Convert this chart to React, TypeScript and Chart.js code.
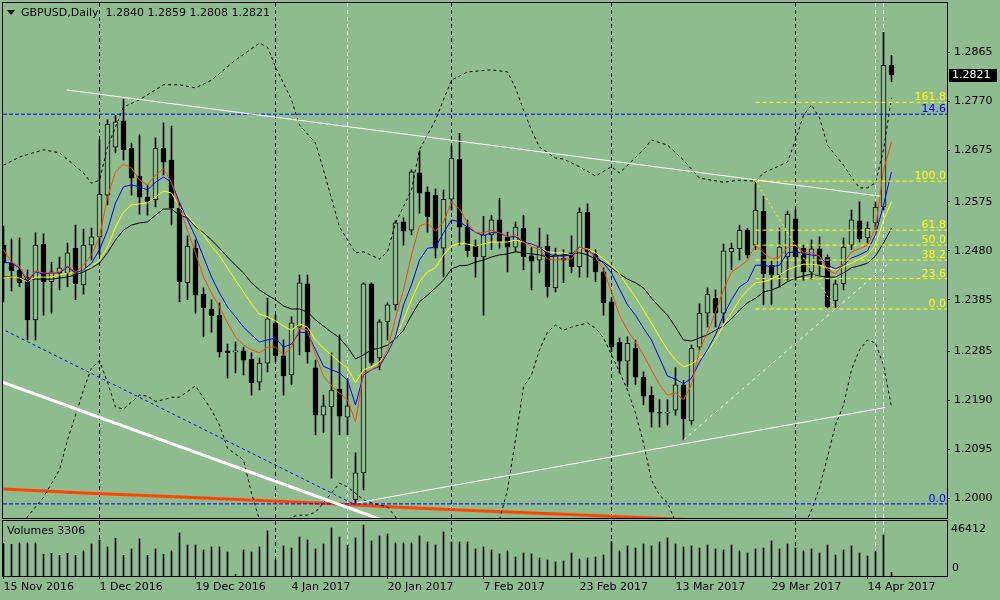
import React, { useEffect, useRef } from 'react';
import { Chart, registerables } from 'chart.js';

Chart.register(...registerables);

const FONT = "'DejaVu Sans', sans-serif";
const BG = '#8fbc8f';

// Daily bars, index 0 = 15 Nov 2016 ... index 111 = 19 Apr 2017
const opens = [
  1.2491, 1.2456, 1.2443, 1.2429, 1.2346, 1.2493, 1.2420, 1.2437, 1.2437, 1.2485,
  1.2414, 1.2491, 1.2507, 1.2588, 1.2681, 1.2732, 1.2679, 1.2625, 1.2584, 1.2579,
  1.2679, 1.2656, 1.2563, 1.2418, 1.2485, 1.2396, 1.2367, 1.2355, 1.2286, 1.2284,
  1.2286, 1.2270, 1.2225, 1.2262, 1.2340, 1.2276, 1.2239, 1.2332, 1.2416, 1.2253,
  1.2161, 1.2177, 1.2212, 1.2157, 1.1997, 1.2049, 1.2416, 1.2272, 1.2342, 1.2375,
  1.2536, 1.2520, 1.2631, 1.2594, 1.2588, 1.2485, 1.2580, 1.2658, 1.2526, 1.2491,
  1.2468, 1.2511, 1.2540, 1.2507, 1.2487, 1.2524, 1.2470, 1.2462, 1.2489, 1.2408,
  1.2466, 1.2476, 1.2449, 1.2555, 1.2474, 1.2439, 1.2381, 1.2303, 1.2266, 1.2291,
  1.2235, 1.2200, 1.2167, 1.2165, 1.2171, 1.2220, 1.2150, 1.2293, 1.2359, 1.2388,
  1.2359, 1.2478, 1.2484, 1.2520, 1.2491, 1.2557, 1.2452, 1.2433, 1.2468, 1.2542,
  1.2485, 1.2439, 1.2484, 1.2468, 1.2383, 1.2416, 1.2491, 1.2538, 1.2505, 1.2534,
  1.2565, 1.2840,
];
const highs = [
  1.2528, 1.2503, 1.2505, 1.2443, 1.2515, 1.2513, 1.2458, 1.2468, 1.2495, 1.2530,
  1.2522, 1.2524, 1.2695, 1.2734, 1.2743, 1.2774, 1.2689, 1.2705, 1.2608, 1.2699,
  1.2728, 1.2722, 1.2573, 1.2509, 1.2501, 1.2408, 1.2385, 1.2379, 1.2299, 1.2303,
  1.2293, 1.2282, 1.2272, 1.2388, 1.2355, 1.2307, 1.2352, 1.2433, 1.2433, 1.2268,
  1.2200, 1.2282, 1.2317, 1.2233, 1.2088, 1.2418, 1.2418, 1.2346, 1.2379, 1.2538,
  1.2544, 1.2637, 1.2674, 1.2604, 1.2600, 1.2598, 1.2683, 1.2708, 1.2540, 1.2501,
  1.2547, 1.2549, 1.2582, 1.2516, 1.2536, 1.2549, 1.2487, 1.2524, 1.2511, 1.2485,
  1.2482, 1.2509, 1.2563, 1.2571, 1.2482, 1.2447, 1.2390, 1.2311, 1.2313, 1.2307,
  1.2245, 1.2216, 1.2191, 1.2191, 1.2253, 1.2229, 1.2297, 1.2377, 1.2408, 1.2404,
  1.2493, 1.2495, 1.2530, 1.2524, 1.2615, 1.2586, 1.2462, 1.2524, 1.2557, 1.2559,
  1.2491, 1.2501, 1.2507, 1.2472, 1.2423, 1.2505, 1.2559, 1.2575, 1.2536, 1.2575,
  1.2904, 1.2859,
];
const lows = [
  1.2381, 1.2402, 1.2410, 1.2307, 1.2307, 1.2355, 1.2359, 1.2404, 1.2410, 1.2385,
  1.2396, 1.2462, 1.2472, 1.2569, 1.2670, 1.2656, 1.2588, 1.2551, 1.2549, 1.2565,
  1.2627, 1.2530, 1.2381, 1.2385, 1.2359, 1.2313, 1.2322, 1.2274, 1.2233, 1.2243,
  1.2239, 1.2200, 1.2210, 1.2245, 1.2264, 1.2200, 1.2220, 1.2278, 1.2262, 1.2123,
  1.2127, 1.2039, 1.2123, 1.2123, 1.1987, 1.2016, 1.2258, 1.2249, 1.2307, 1.2365,
  1.2491, 1.2511, 1.2553, 1.2516, 1.2466, 1.2429, 1.2559, 1.2491, 1.2468, 1.2429,
  1.2355, 1.2482, 1.2485, 1.2439, 1.2478, 1.2443, 1.2404, 1.2437, 1.2390, 1.2400,
  1.2418, 1.2437, 1.2429, 1.2429, 1.2420, 1.2355, 1.2284, 1.2243, 1.2216, 1.2220,
  1.2181, 1.2138, 1.2138, 1.2142, 1.2161, 1.2113, 1.2142, 1.2288, 1.2332, 1.2332,
  1.2340, 1.2443, 1.2462, 1.2466, 1.2482, 1.2375, 1.2375, 1.2410, 1.2423, 1.2423,
  1.2423, 1.2425, 1.2433, 1.2367, 1.2367, 1.2404, 1.2482, 1.2497, 1.2495, 1.2520,
  1.2559, 1.2808,
];
const closes = [
  1.2456, 1.2441, 1.2418, 1.2346, 1.2491, 1.2420, 1.2439, 1.2447, 1.2476, 1.2416,
  1.2491, 1.2507, 1.2590, 1.2726, 1.2730, 1.2676, 1.2621, 1.2584, 1.2575, 1.2679,
  1.2652, 1.2563, 1.2420, 1.2489, 1.2394, 1.2369, 1.2354, 1.2284, 1.2282, 1.2286,
  1.2268, 1.2224, 1.2262, 1.2348, 1.2276, 1.2237, 1.2340, 1.2418, 1.2284, 1.2161,
  1.2179, 1.2210, 1.2159, 1.2179, 1.2049, 1.2416, 1.2262, 1.2342, 1.2375, 1.2534,
  1.2518, 1.2633, 1.2592, 1.2546, 1.2485, 1.2580, 1.2660, 1.2526, 1.2480, 1.2468,
  1.2511, 1.2540, 1.2497, 1.2487, 1.2526, 1.2468, 1.2460, 1.2487, 1.2410, 1.2472,
  1.2462, 1.2449, 1.2555, 1.2478, 1.2439, 1.2379, 1.2293, 1.2266, 1.2301, 1.2235,
  1.2198, 1.2167, 1.2165, 1.2167, 1.2220, 1.2154, 1.2291, 1.2359, 1.2396, 1.2359,
  1.2480, 1.2485, 1.2520, 1.2472, 1.2559, 1.2435, 1.2433, 1.2487, 1.2551, 1.2468,
  1.2439, 1.2484, 1.2452, 1.2371, 1.2416, 1.2487, 1.2540, 1.2503, 1.2524, 1.2565,
  1.2840, 1.2821,
];
const volumes = [
  29730, 28820, 30030, 30030, 30030, 19720, 20630, 18810, 20630, 18810,
  22750, 29120, 32760, 26390, 34280, 18810, 24570, 33670, 18810, 24570,
  19720, 22750, 39130, 28210, 28210, 23660, 26390, 26390, 21840, 1520,
  23660, 21840, 26390, 40950, 14560, 27300, 25480, 35490, 32760, 24570,
  29120, 43680, 35490, 28210, 34580, 46412, 31850, 36400, 38220, 30030,
  30030, 30030, 36400, 30940, 28210, 40040, 30940, 30940, 30940, 24570,
  26390, 23660, 20020, 22750, 17290, 20930, 20020, 16380, 14560, 12740,
  13650, 20930, 15470, 16380, 17290, 19110, 31240, 22750, 27300, 25480,
  29120, 27300, 30940, 34580, 29120, 26390, 27300, 25480, 28210, 24570,
  23660, 28210, 22750, 20930, 24570, 25480, 31850, 24570, 29120, 25480,
  22750, 24570, 20930, 28210, 19110, 23660, 27300, 20930, 18200, 22750,
  37310, 3306,
];

// moving averages, one value per bar
const maRed = [
  1.2482, 1.2458, 1.2449, 1.2423, 1.2441, 1.2437, 1.2437, 1.2439, 1.2451, 1.2439,
  1.2452, 1.2472, 1.2507, 1.2584, 1.2633, 1.2648, 1.2641, 1.2617, 1.2608, 1.2627,
  1.2639, 1.2613, 1.2563, 1.2520, 1.2476, 1.2429, 1.2398, 1.2371, 1.2340, 1.2313,
  1.2297, 1.2288, 1.2282, 1.2293, 1.2293, 1.2278, 1.2293, 1.2330, 1.2326, 1.2278,
  1.2237, 1.2218, 1.2204, 1.2191, 1.2148, 1.2243, 1.2249, 1.2258, 1.2288, 1.2350,
  1.2404, 1.2472, 1.2528, 1.2534, 1.2518, 1.2536, 1.2575, 1.2561, 1.2534, 1.2515,
  1.2515, 1.2520, 1.2515, 1.2507, 1.2511, 1.2497, 1.2489, 1.2482, 1.2464, 1.2462,
  1.2464, 1.2464, 1.2487, 1.2482, 1.2468, 1.2443, 1.2400, 1.2355, 1.2326, 1.2303,
  1.2278, 1.2249, 1.2220, 1.2200, 1.2204, 1.2191, 1.2220, 1.2288, 1.2322, 1.2361,
  1.2404, 1.2439, 1.2449, 1.2462, 1.2491, 1.2476, 1.2464, 1.2468, 1.2487, 1.2491,
  1.2476, 1.2476, 1.2470, 1.2443, 1.2435, 1.2456, 1.2478, 1.2484, 1.2491, 1.2524,
  1.2637, 1.2691,
];
const maBlue = [
  1.2458, 1.2456, 1.2447, 1.2420, 1.2439, 1.2435, 1.2437, 1.2437, 1.2449, 1.2437,
  1.2443, 1.2456, 1.2482, 1.2520, 1.2573, 1.2604, 1.2608, 1.2604, 1.2598, 1.2613,
  1.2623, 1.2613, 1.2573, 1.2540, 1.2507, 1.2468, 1.2429, 1.2398, 1.2371, 1.2352,
  1.2332, 1.2317, 1.2303, 1.2307, 1.2311, 1.2293, 1.2299, 1.2322, 1.2321, 1.2288,
  1.2256, 1.2249, 1.2243, 1.2229, 1.2181, 1.2239, 1.2249, 1.2256, 1.2282, 1.2313,
  1.2375, 1.2414, 1.2462, 1.2485, 1.2487, 1.2515, 1.2540, 1.2536, 1.2526, 1.2516,
  1.2509, 1.2515, 1.2515, 1.2507, 1.2507, 1.2497, 1.2493, 1.2487, 1.2474, 1.2470,
  1.2470, 1.2472, 1.2487, 1.2482, 1.2470, 1.2456, 1.2437, 1.2406, 1.2375, 1.2355,
  1.2330, 1.2307, 1.2272, 1.2237, 1.2231, 1.2222, 1.2233, 1.2264, 1.2288, 1.2317,
  1.2355, 1.2385, 1.2410, 1.2420, 1.2452, 1.2452, 1.2449, 1.2452, 1.2476, 1.2478,
  1.2474, 1.2472, 1.2470, 1.2452, 1.2445, 1.2452, 1.2466, 1.2472, 1.2480, 1.2511,
  1.2569, 1.2633,
];
const maYellow = [
  1.2427, 1.2429, 1.2427, 1.2420, 1.2429, 1.2429, 1.2429, 1.2433, 1.2437, 1.2437,
  1.2443, 1.2449, 1.2462, 1.2487, 1.2526, 1.2555, 1.2569, 1.2571, 1.2573, 1.2584,
  1.2596, 1.2592, 1.2565, 1.2547, 1.2530, 1.2511, 1.2489, 1.2470, 1.2447, 1.2423,
  1.2400, 1.2377, 1.2357, 1.2352, 1.2344, 1.2334, 1.2326, 1.2338, 1.2332, 1.2307,
  1.2291, 1.2278, 1.2264, 1.2253, 1.2224, 1.2249, 1.2255, 1.2264, 1.2284, 1.2311,
  1.2346, 1.2385, 1.2420, 1.2439, 1.2447, 1.2472, 1.2489, 1.2495, 1.2493, 1.2489,
  1.2493, 1.2497, 1.2497, 1.2497, 1.2501, 1.2497, 1.2491, 1.2487, 1.2478, 1.2476,
  1.2476, 1.2472, 1.2485, 1.2484, 1.2476, 1.2464, 1.2452, 1.2435, 1.2412, 1.2390,
  1.2365, 1.2340, 1.2313, 1.2288, 1.2268, 1.2255, 1.2260, 1.2272, 1.2284, 1.2307,
  1.2336, 1.2359, 1.2385, 1.2404, 1.2418, 1.2420, 1.2425, 1.2433, 1.2443, 1.2449,
  1.2454, 1.2454, 1.2452, 1.2447, 1.2443, 1.2449, 1.2456, 1.2464, 1.2472, 1.2491,
  1.2540, 1.2575,
];
const maBlack = [
  1.2429, 1.2429, 1.2427, 1.2423, 1.2425, 1.2425, 1.2425, 1.2427, 1.2429, 1.2433,
  1.2439, 1.2447, 1.2456, 1.2476, 1.2501, 1.2520, 1.2530, 1.2534, 1.2536, 1.2549,
  1.2561, 1.2561, 1.2549, 1.2544, 1.2526, 1.2515, 1.2501, 1.2485, 1.2468, 1.2452,
  1.2437, 1.2418, 1.2404, 1.2394, 1.2385, 1.2373, 1.2367, 1.2367, 1.2361, 1.2346,
  1.2334, 1.2322, 1.2311, 1.2293, 1.2270, 1.2278, 1.2288, 1.2291, 1.2297, 1.2309,
  1.2326, 1.2355, 1.2381, 1.2394, 1.2408, 1.2423, 1.2445, 1.2451, 1.2452, 1.2458,
  1.2462, 1.2468, 1.2472, 1.2474, 1.2478, 1.2476, 1.2474, 1.2472, 1.2468, 1.2470,
  1.2472, 1.2474, 1.2476, 1.2472, 1.2464, 1.2458, 1.2447, 1.2435, 1.2425, 1.2418,
  1.2408, 1.2388, 1.2371, 1.2355, 1.2332, 1.2307, 1.2305, 1.2311, 1.2317, 1.2326,
  1.2334, 1.2348, 1.2365, 1.2379, 1.2388, 1.2400, 1.2404, 1.2410, 1.2420, 1.2427,
  1.2431, 1.2435, 1.2431, 1.2429, 1.2429, 1.2437, 1.2447, 1.2451, 1.2456, 1.2470,
  1.2495, 1.2524,
];

// envelope bands (dotted), sampled bars
const bandUpperIdx = [0, 2, 5, 7, 10, 11, 12, 13, 15, 17, 20, 22, 24, 26, 29, 32, 33, 34, 36, 37, 39, 40, 42, 44, 45, 47, 48, 49, 51, 52, 54, 55, 56, 58, 61, 63, 64, 65, 66, 67, 69, 70, 72, 74, 76, 77, 80, 81, 83, 85, 87, 90, 92, 94, 95, 98, 99, 100, 101, 102, 103, 105, 106, 107, 108, 109, 110, 111];
const bandUpper = [1.2646, 1.2662, 1.2676, 1.2670, 1.2631, 1.2611, 1.2617, 1.2681, 1.2759, 1.2773, 1.2802, 1.2802, 1.2796, 1.2811, 1.2850, 1.2883, 1.2875, 1.2837, 1.2773, 1.2724, 1.2689, 1.2637, 1.2526, 1.2476, 1.2478, 1.2464, 1.2478, 1.2534, 1.2598, 1.2676, 1.2734, 1.2773, 1.2811, 1.2827, 1.2831, 1.2827, 1.2796, 1.2753, 1.2714, 1.2681, 1.2660, 1.2658, 1.2643, 1.2625, 1.2643, 1.2631, 1.2676, 1.2695, 1.2685, 1.2656, 1.2621, 1.2613, 1.2617, 1.2615, 1.2631, 1.2652, 1.2695, 1.2743, 1.2763, 1.2738, 1.2685, 1.2646, 1.2623, 1.2602, 1.2602, 1.2612, 1.2676, 1.2776];
const bandLowerIdx = [0, 3, 5, 7, 8, 9, 10, 11, 12, 13, 14, 15, 17, 18, 19, 20, 21, 22, 24, 26, 27, 28, 30, 31, 32, 34, 36, 37, 38, 39, 40, 42, 43, 45, 46, 48, 49, 52, 57, 61, 62, 63, 64, 65, 66, 67, 68, 69, 70, 71, 72, 73, 74, 75, 76, 77, 78, 79, 80, 81, 82, 83, 84, 86, 92, 98, 100, 101, 102, 103, 104, 105, 106, 107, 108, 109, 110, 111];
const bandLower = [1.1880, 1.1964, 1.2002, 1.2055, 1.2113, 1.2161, 1.2210, 1.2253, 1.2266, 1.2225, 1.2177, 1.2173, 1.2200, 1.2198, 1.2188, 1.2191, 1.2196, 1.2196, 1.2218, 1.2171, 1.2142, 1.2097, 1.2074, 1.2010, 1.1958, 1.1929, 1.1964, 1.1967, 1.1967, 1.1973, 1.1991, 1.2029, 1.2022, 1.1997, 1.1991, 1.1983, 1.1964, 1.1880, 1.1822, 1.1880, 1.1958, 1.2016, 1.2113, 1.2216, 1.2239, 1.2288, 1.2322, 1.2336, 1.2326, 1.2332, 1.2336, 1.2340, 1.2330, 1.2311, 1.2278, 1.2245, 1.2210, 1.2165, 1.2107, 1.2035, 1.2006, 1.1991, 1.1954, 1.1880, 1.1803, 1.1841, 1.1942, 1.1977, 1.2020, 1.2080, 1.2142, 1.2181, 1.2249, 1.2288, 1.2307, 1.2301, 1.2258, 1.2177];

// long moving average near the bottom
const slowMaIdx = [0, 10, 20, 30, 40, 50, 60, 70, 80, 90];
const slowMa = [1.2018, 1.2010, 1.2004, 1.1997, 1.1990, 1.1982, 1.1975, 1.1969, 1.1962, 1.1956];

// drawn objects: [bar, price] end points
const resistanceLine = [[7.9, 1.2792], [109.6, 1.2586]];
const channelLine = [[-0.5, 1.2227], [48, 1.1954]];
const blueTrendLine = [[-0.4, 1.2330], [44, 1.1987]];
const supportLine = [[44.2, 1.1991], [110.2, 1.2176]];
const dashedSupport = [[85, 1.2113], [110.8, 1.2458]];
const fibSwing = [[94, 1.2615], [104, 1.2367]];

const fibStartBar = 94;
const fibLevels = [1.2367, 1.2426, 1.2462, 1.2491, 1.2520, 1.2615, 1.2768];
const fibLabels = ['0.0', '23.6', '38.2', '50.0', '61.8', '100.0', '161.8'];
const blueLevels = [1.2745, 1.1989];
const blueLabels = ['14.6', '0.0'];

const monthSeparators = [12, 34, 56, 76, 99];
const whiteMarkers = [43, 109, 110];

const priceTicks = [1.2865, 1.2770, 1.2675, 1.2575, 1.2480, 1.2385, 1.2285, 1.2190, 1.2095, 1.2000];
const dateTicks = [0, 12, 24, 36, 48, 60, 72, 84, 96, 108];
const dateLabels = ['15 Nov 2016', '1 Dec 2016', '19 Dec 2016', '4 Jan 2017', '20 Jan 2017', '7 Feb 2017', '23 Feb 2017', '13 Mar 2017', '29 Mar 2017', '14 Apr 2017'];

const X_MIN = -0.0625;
const X_MAX = 117.9375;
const Y_MIN = 1.19616;
const Y_MAX = 1.29607;
const VOL_MAX = 50000;

const last = closes.length - 1;

const seq = (arr: number[]) => arr.map((v, i) => ({ x: i, y: v }));
const pairs = (idx: number[], vals: number[]) => idx.map((x, k) => ({ x, y: vals[k] }));
const seg = (p: number[][]) => p.map(([x, y]) => ({ x, y }));

const lineSet = (data: any[], color: string, width: number, dash: number[], order: number) => ({
  type: 'line',
  data,
  borderColor: color,
  borderWidth: width,
  borderDash: dash,
  pointRadius: 0,
  tension: 0,
  fill: false,
  order,
});

function drawSeparators(chart: any) {
  const { ctx, chartArea: a } = chart;
  const xs = chart.scales.x;
  ctx.save();
  ctx.lineWidth = 1;
  const vline = (idx: number, color: string, dash: number[]) => {
    const px = Math.round(xs.getPixelForValue(idx) - 0.5) + 0.5;
    ctx.strokeStyle = color;
    ctx.setLineDash(dash);
    ctx.beginPath();
    ctx.moveTo(px, a.top);
    ctx.lineTo(px, a.bottom);
    ctx.stroke();
  };
  monthSeparators.forEach((i) => vline(i, '#000', [4, 3]));
  whiteMarkers.forEach((i) => vline(i, '#fff', [4, 3]));
  ctx.restore();
}

const mainOverlay = {
  id: 'mainOverlay',
  beforeDatasetsDraw(chart: any) {
    drawSeparators(chart);
  },
  afterDraw(chart: any) {
    const { ctx, chartArea: a } = chart;
    const ys = chart.scales.y;
    ctx.save();
    ctx.font = `11px ${FONT}`;

    // level labels
    ctx.textAlign = 'right';
    ctx.textBaseline = 'alphabetic';
    ctx.fillStyle = '#ffff00';
    fibLevels.forEach((v, k) => ctx.fillText(fibLabels[k], a.right - 1, ys.getPixelForValue(v) - 2));
    ctx.fillStyle = '#0000ff';
    blueLevels.forEach((v, k) => ctx.fillText(blueLabels[k], a.right - 1, ys.getPixelForValue(v) - 2));

    // header
    ctx.fillStyle = '#000';
    ctx.beginPath();
    ctx.moveTo(7, 10);
    ctx.lineTo(15, 10);
    ctx.lineTo(11, 15);
    ctx.closePath();
    ctx.fill();
    ctx.textAlign = 'left';
    ctx.textBaseline = 'middle';
    const ohlc = [opens[last], highs[last], lows[last], closes[last]].map((v) => v.toFixed(4)).join(' ');
    ctx.fillText(`GBPUSD,Daily  ${ohlc}`, 21, 13);

    // last price tag
    const py = ys.getPixelForValue(closes[last]);
    ctx.fillStyle = '#000';
    ctx.fillRect(a.right + 2, Math.round(py) - 6, 48, 13);
    ctx.fillStyle = '#fff';
    ctx.fillText(closes[last].toFixed(4), a.right + 5, py + 0.5);

    // frame
    ctx.strokeStyle = '#000';
    ctx.lineWidth = 1;
    ctx.setLineDash([]);
    ctx.strokeRect(a.left - 0.5, a.top - 0.5, a.right - a.left + 1, a.bottom - a.top + 1);
    ctx.restore();
  },
};

const volumeOverlay = {
  id: 'volumeOverlay',
  beforeDatasetsDraw(chart: any) {
    drawSeparators(chart);
  },
  afterDraw(chart: any) {
    const { ctx, chartArea: a } = chart;
    ctx.save();
    ctx.font = `11px ${FONT}`;
    ctx.fillStyle = '#000';
    ctx.textAlign = 'left';
    ctx.textBaseline = 'middle';
    ctx.fillText(`Volumes ${volumes[last]}`, 7, 12.5);
    ctx.fillText(String(Math.max(...volumes)), a.right + 4, 10.5);
    ctx.fillText('0', a.right + 5, 49.5);
    ctx.strokeStyle = '#000';
    ctx.lineWidth = 1;
    ctx.strokeRect(a.left - 0.5, a.top - 0.5, a.right - a.left + 1, a.bottom - a.top + 1);
    ctx.restore();
  },
};

const App: React.FC = () => {
  const priceRef = useRef<HTMLCanvasElement>(null);
  const volumeRef = useRef<HTMLCanvasElement>(null);

  useEffect(() => {
    Chart.defaults.font.family = FONT;
    Chart.defaults.font.size = 11;
    Chart.defaults.color = '#000';

    let priceChart: Chart | null = null;
    let volumeChart: Chart | null = null;

    if (priceRef.current) {
      const datasets: any[] = [
        lineSet(seg(resistanceLine), '#ffffff', 1, [], 1),
        lineSet(seg(channelLine), '#ffffff', 3, [], 1),
        lineSet(seg(blueTrendLine), '#0000ff', 1, [3, 3], 1),
        lineSet(seg(supportLine), '#ffffff', 1, [], 1),
        lineSet(seg(dashedSupport), '#ffffff', 1, [3, 4], 1),
        lineSet(seg(fibSwing), '#ffff00', 1, [2, 3], 1),
        ...fibLevels.map((v) => lineSet([{ x: fibStartBar, y: v }, { x: X_MAX, y: v }], '#ffff00', 1, [4, 3], 1)),
        ...blueLevels.map((v) => lineSet([{ x: X_MIN, y: v }, { x: X_MAX, y: v }], '#0000ff', 1, [4, 2], 1)),
        lineSet(seq(maRed), '#ff4500', 1, [], 2),
        lineSet(seq(maBlue), '#0000ff', 1, [], 2),
        lineSet(seq(maYellow), '#ffff00', 1, [], 2),
        lineSet(seq(maBlack), '#000000', 1, [], 2),
        lineSet(pairs(bandUpperIdx, bandUpper), '#000000', 1, [3, 3], 3),
        lineSet(pairs(bandLowerIdx, bandLower), '#000000', 1, [3, 3], 3),
        lineSet(pairs(slowMaIdx, slowMa), '#ff4500', 3, [], 3),
        {
          type: 'bar',
          data: closes.map((c, i) => ({ x: i, y: [Math.min(opens[i], c), Math.max(opens[i], c)] })),
          backgroundColor: closes.map((c, i) => (c >= opens[i] ? BG : '#000')),
          borderColor: '#000',
          borderWidth: 1,
          borderSkipped: false,
          barThickness: 5,
          minBarLength: 1,
          grouped: false,
          order: 4,
        },
        {
          type: 'bar',
          data: lows.map((l, i) => ({ x: i, y: [l, highs[i]] })),
          backgroundColor: '#000',
          borderWidth: 0,
          barThickness: 1,
          grouped: false,
          order: 5,
        },
      ];

      priceChart = new Chart(priceRef.current, {
        type: 'line',
        data: { datasets },
        options: {
          responsive: false,
          animation: false,
          events: [],
          layout: { padding: { left: 3, top: 3, right: 0, bottom: 2 }, autoPadding: false },
          plugins: { legend: { display: false }, tooltip: { enabled: false }, title: { display: false } },
          scales: {
            x: { type: 'linear', min: X_MIN, max: X_MAX, display: false, offset: false },
            y: {
              type: 'linear',
              position: 'right',
              min: Y_MIN,
              max: Y_MAX,
              afterBuildTicks: (s: any) => {
                s.ticks = priceTicks.map((v) => ({ value: v }));
              },
              afterFit: (s: any) => {
                s.width = 53;
                s.paddingTop = 0;
                s.paddingBottom = 0;
              },
              ticks: {
                callback: (v: any) => Number(v).toFixed(4),
                padding: 4,
                autoSkip: false,
                color: '#000',
                font: { family: FONT, size: 11 },
              },
              grid: { drawOnChartArea: false, drawTicks: true, tickLength: 3, color: '#000' },
              border: { display: true, color: '#000' },
            },
          },
        } as any,
        plugins: [mainOverlay],
      } as any);
    }

    if (volumeRef.current) {
      volumeChart = new Chart(volumeRef.current, {
        type: 'bar',
        data: {
          datasets: [
            {
              data: volumes.map((v, i) => ({ x: i, y: v })),
              backgroundColor: '#000',
              borderWidth: 0,
              barThickness: 1,
              grouped: false,
            },
          ],
        },
        options: {
          responsive: false,
          animation: false,
          events: [],
          layout: { padding: { left: 3, top: 2, right: 0, bottom: 0 }, autoPadding: false },
          plugins: { legend: { display: false }, tooltip: { enabled: false }, title: { display: false } },
          scales: {
            x: {
              type: 'linear',
              position: 'bottom',
              min: X_MIN,
              max: X_MAX,
              offset: false,
              afterBuildTicks: (s: any) => {
                s.ticks = dateTicks.map((v) => ({ value: v }));
              },
              afterFit: (s: any) => {
                s.height = 24;
                s.paddingLeft = 0;
                s.paddingRight = 0;
              },
              ticks: {
                callback: (_v: any, i: number) => dateLabels[i],
                align: 'start',
                maxRotation: 0,
                minRotation: 0,
                autoSkip: false,
                padding: 2,
                color: '#000',
                font: { family: FONT, size: 11 },
              },
              grid: { drawOnChartArea: false, drawTicks: true, tickLength: 3, color: '#000', offset: false },
              border: { display: true, color: '#000' },
            },
            y: {
              type: 'linear',
              position: 'right',
              min: 0,
              max: VOL_MAX,
              afterFit: (s: any) => {
                s.width = 53;
                s.paddingTop = 0;
                s.paddingBottom = 0;
              },
              ticks: { display: false },
              grid: { display: false },
              border: { display: true, color: '#000' },
            },
          },
        } as any,
        plugins: [volumeOverlay],
      } as any);
    }

    return () => {
      if (priceChart) priceChart.destroy();
      if (volumeChart) volumeChart.destroy();
    };
  }, []);

  const frameStyle: React.CSSProperties = {
    position: 'absolute',
    left: 0,
    top: 0,
    width: 1000,
    height: 600,
    background: BG,
    overflow: 'hidden',
  };

  return (
    <div style={frameStyle}>
      <canvas ref={priceRef} width={1000} height={520} style={{ position: 'absolute', left: 0, top: 0 }} />
      <canvas ref={volumeRef} width={1000} height={81} style={{ position: 'absolute', left: 0, top: 519 }} />
    </div>
  );
};

export default App;
